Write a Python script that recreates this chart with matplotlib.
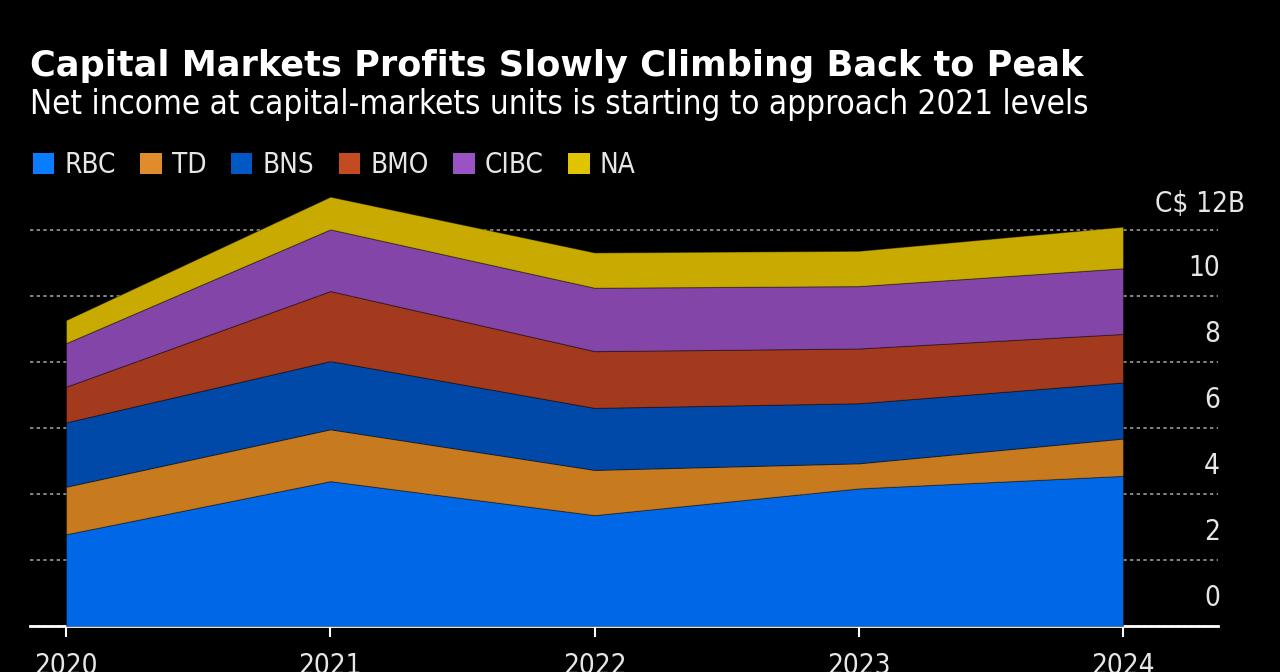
import matplotlib
matplotlib.use("Agg")
import matplotlib.pyplot as plt
from matplotlib.patches import Patch
from matplotlib.transforms import blended_transform_factory

# net income by bank, C$ billions
years = [2020, 2021, 2022, 2023, 2024]
banks = ["RBC", "TD", "BNS", "BMO", "CIBC", "NA"]
rbc = [2.78, 4.39, 3.36, 4.17, 4.55]
td = [1.44, 1.57, 1.37, 0.76, 1.13]
bns = [1.95, 2.07, 1.88, 1.82, 1.70]
bmo = [1.08, 2.12, 1.72, 1.66, 1.47]
cibc = [1.32, 1.87, 1.92, 1.89, 1.99]
na = [0.70, 0.99, 1.07, 1.07, 1.26]
yticks = [0, 2, 4, 6, 8, 10, 12]

area_colors = ["#0068e6", "#c87a1f", "#0049a8", "#a3391d", "#8346a8", "#c8aa00"]
legend_colors = ["#0a7cff", "#e08c2c", "#0058c4", "#c44a22", "#9a52c4", "#e0c400"]

fg = "#e6e6e6"
nfont = dict(family="DejaVu Sans", stretch="condensed")

fig = plt.figure(figsize=(12.8, 6.72), dpi=100, facecolor="black")
ax = fig.add_axes([30 / 1280, 46 / 672, 1188 / 1280, 446 / 672])
ax.set_facecolor("black")

ax.stackplot(years, rbc, td, bns, bmo, cibc, na, colors=area_colors,
             edgecolor=(0, 0, 0, 0.35), linewidth=0.8, zorder=2)

step = (1123 - 66) / 4
ax.set_xlim(2020 - 36 / step, 2024 + 95 / step)
ax.set_ylim(0, 446 / 33)

ax.set_yticks(yticks)
ax.yaxis.grid(True, color="#9a9a9a", linestyle=(0, (2, 2)), linewidth=1.2, zorder=0)
ax.set_axisbelow(True)
ax.tick_params(axis="y", left=False, right=False, labelleft=False, labelright=False)

trans = blended_transform_factory(ax.transAxes, ax.transData)
for v in yticks:
    if v == 12:
        ax.text(1.0227, v + 0.8, "C$ 12B", transform=trans, ha="right", va="center",
                color=fg, fontsize=20, **nfont)
    else:
        ax.text(1.0017, v + 0.85, str(v), transform=trans, ha="right", va="center",
                color=fg, fontsize=20, **nfont)

ax.set_xticks(years)
ax.set_xticklabels([str(y) for y in years], fontsize=20, color=fg, **nfont)
ax.tick_params(axis="x", color="white", length=8, width=1.5, pad=11)

for s in ["top", "left", "right"]:
    ax.spines[s].set_visible(False)
ax.spines["bottom"].set_color("white")
ax.spines["bottom"].set_linewidth(2)
ax.spines["bottom"].set_zorder(1)

fig.text(30 / 1280, 1 - 76 / 672, "Capital Markets Profits Slowly Climbing Back to Peak",
         color="white", fontsize=25.3, fontweight="bold", family="DejaVu Sans", va="baseline")
fig.text(30 / 1280, 1 - 114 / 672,
         "Net income at capital-markets units is starting to approach 2021 levels",
         color="white", fontsize=23.8, va="baseline", **nfont)

handles = [Patch(facecolor=c, edgecolor="none") for c in legend_colors]
fig.legend(handles, banks, loc="upper left", bbox_to_anchor=(33 / 1280, 1 - 151 / 672),
           ncol=6, frameon=False, borderpad=0, borderaxespad=0,
           handlelength=0.76, handleheight=0.76, handletextpad=0.36, columnspacing=0.9,
           prop={"family": "DejaVu Sans", "stretch": "condensed", "size": 20},
           labelcolor=fg)

fig.savefig("out.png", dpi=100, facecolor="black")
